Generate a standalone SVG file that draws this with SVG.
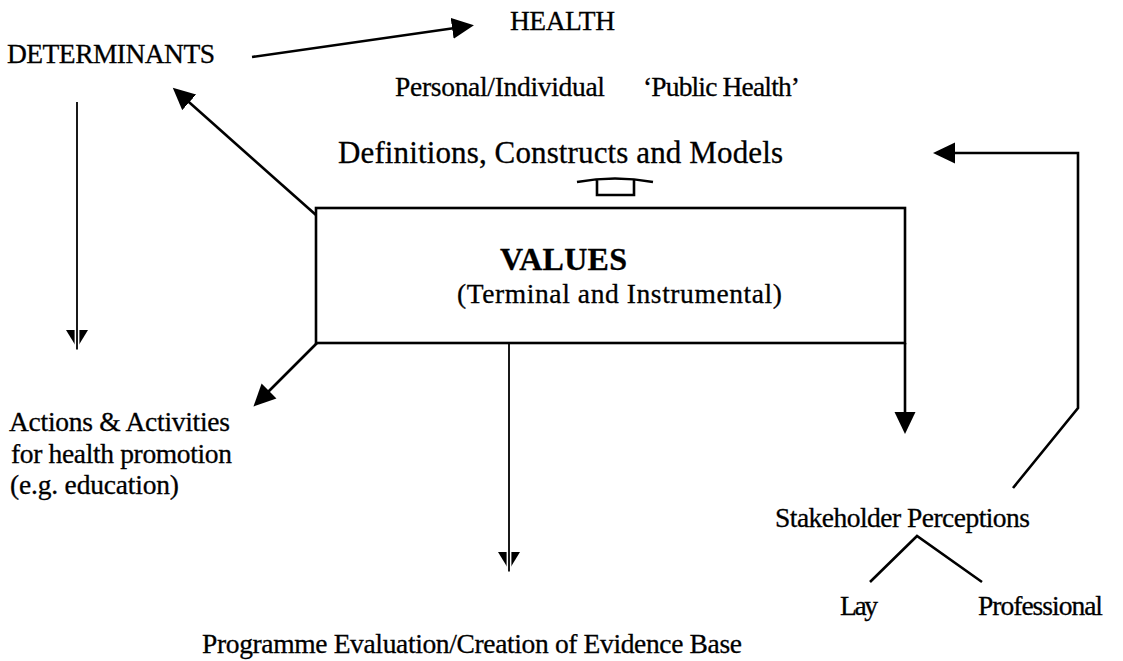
<svg xmlns="http://www.w3.org/2000/svg" width="1123" height="661" viewBox="0 0 1123 661">
<style>
  text { font-family: "Liberation Serif", "Times New Roman", serif; fill: #000; stroke: #000; stroke-width: 0.3; }
  .t { font-size: 27.5px; }
  .big { font-size: 31px; }
  .bold { font-size: 32px; font-weight: bold; }
  .ln { fill: none; stroke: #000; stroke-width: 2.6; stroke-linejoin: miter; }
  .thin { fill: none; stroke: #000; stroke-width: 1.8; }
  .box { fill: #fff; stroke: #000; stroke-width: 2.6; }
</style>
<defs>
  <marker id="ah" markerUnits="userSpaceOnUse" markerWidth="24" markerHeight="24" viewBox="0 0 24 24" refX="17" refY="11" orient="auto">
    <path d="M0,0.5 L22,11 L0,21.5 Z" fill="#000"/>
  </marker>
  <marker id="split" markerUnits="userSpaceOnUse" markerWidth="24" markerHeight="26" viewBox="-3 -13 24 26" refX="18" refY="0" orient="auto">
    <path d="M0,-11 L18,0 L0,11 Z" fill="#000"/>
    <rect x="-3" y="-2.4" width="22" height="4.8" fill="#fff"/>
    <line x1="-3" y1="0" x2="19.5" y2="0" stroke="#000" stroke-width="1.8"/>
  </marker>
</defs>
<rect width="1123" height="661" fill="#fff"/>

<g id="connectors">
  <path class="ln" d="M252,57 L469,26" marker-end="url(#ah)"/>
  <path class="ln" d="M316,215 L176.5,91" marker-end="url(#ah)"/>
  <path class="ln" d="M317,343 L257,403" marker-end="url(#ah)"/>
  <path class="thin" d="M77,102 L77,348" marker-end="url(#split)"/>
  <path class="thin" d="M509,343 L509,570" marker-end="url(#split)"/>
  <path class="ln" d="M905,343 L905,429" marker-end="url(#ah)"/>
  <path class="ln" d="M1013,488 L1078,408 L1078,153 L938,153" marker-end="url(#ah)"/>
  <path class="ln" d="M870,582 L917,536 L982,582"/>
  <path class="ln" d="M577,182 Q615,175 653,182 M597,180 L597,195 L634,195 L634,180"/>
</g>

<g id="n-health"><text class="t" x="510" y="30" textLength="105">HEALTH</text></g>
<g id="n-determinants"><text class="t" x="7" y="63" textLength="208">DETERMINANTS</text></g>
<g id="n-personal"><text class="t" x="395" y="96" textLength="210">Personal/Individual</text></g>
<g id="n-public"><text class="t" x="643" y="96" textLength="157">‘Public Health’</text></g>
<g id="n-definitions"><text class="big" x="338" y="163" textLength="445">Definitions, Constructs and Models</text></g>
<g id="n-values">
  <rect class="box" x="316" y="208" width="589" height="135"/>
  <text class="bold" x="500" y="270" textLength="127">VALUES</text>
  <text class="t" x="457" y="303" textLength="325">(Terminal and Instrumental)</text>
</g>
<g id="n-actions">
  <text class="t" x="9" y="431" textLength="221">Actions &amp; Activities</text>
  <text class="t" x="11" y="463" textLength="221">for health promotion</text>
  <text class="t" x="10" y="494" textLength="169">(e.g. education)</text>
</g>
<g id="n-programme"><text class="t" x="202" y="653" textLength="540">Programme Evaluation/Creation of Evidence Base</text></g>
<g id="n-stakeholder"><text class="t" x="775" y="527" textLength="255">Stakeholder Perceptions</text></g>
<g id="n-lay"><text class="t" x="840" y="615" textLength="38">Lay</text></g>
<g id="n-professional"><text class="t" x="978" y="615" textLength="125">Professional</text></g>
</svg>
